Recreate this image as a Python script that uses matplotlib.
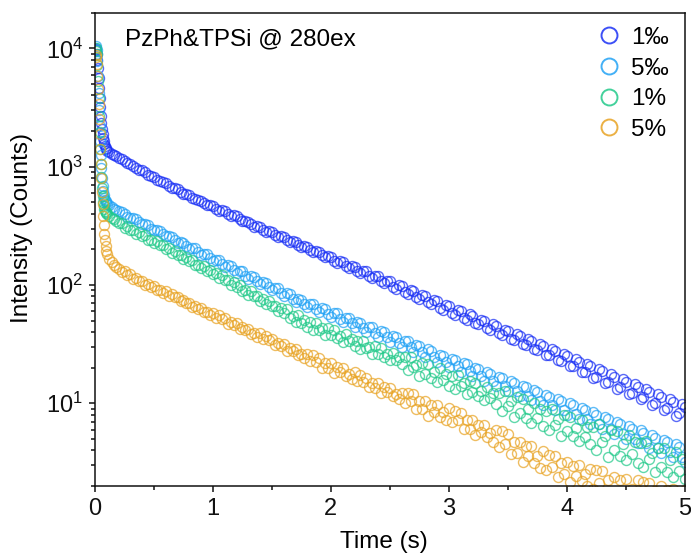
import matplotlib
matplotlib.use("Agg")
import matplotlib.pyplot as plt
from matplotlib.lines import Line2D
from matplotlib.ticker import MultipleLocator, LogLocator, NullFormatter

# =========================
# DATOS
# =========================

# tiempo (s): caída rápida inicial + cola lenta
tiempo_rapido = [0.005, 0.010, 0.015, 0.020, 0.025, 0.030, 0.035, 0.040, 0.045, 0.050,
                 0.055, 0.060, 0.065, 0.070, 0.075, 0.080, 0.085, 0.090, 0.095, 0.100,
                 0.12, 0.14, 0.16, 0.18, 0.20]
tiempo_lento = [
    0.225, 0.250, 0.275, 0.300, 0.325, 0.350, 0.375, 0.400,
    0.425, 0.450, 0.475, 0.500, 0.525, 0.550, 0.575, 0.600,
    0.625, 0.650, 0.675, 0.700, 0.725, 0.750, 0.775, 0.800,
    0.825, 0.850, 0.875, 0.900, 0.925, 0.950, 0.975, 1.000,
    1.025, 1.050, 1.075, 1.100, 1.125, 1.150, 1.175, 1.200,
    1.225, 1.250, 1.275, 1.300, 1.325, 1.350, 1.375, 1.400,
    1.425, 1.450, 1.475, 1.500, 1.525, 1.550, 1.575, 1.600,
    1.625, 1.650, 1.675, 1.700, 1.725, 1.750, 1.775, 1.800,
    1.825, 1.850, 1.875, 1.900, 1.925, 1.950, 1.975, 2.000,
    2.025, 2.050, 2.075, 2.100, 2.125, 2.150, 2.175, 2.200,
    2.225, 2.250, 2.275, 2.300, 2.325, 2.350, 2.375, 2.400,
    2.425, 2.450, 2.475, 2.500, 2.525, 2.550, 2.575, 2.600,
    2.625, 2.650, 2.675, 2.700, 2.725, 2.750, 2.775, 2.800,
    2.825, 2.850, 2.875, 2.900, 2.925, 2.950, 2.975, 3.000,
    3.025, 3.050, 3.075, 3.100, 3.125, 3.150, 3.175, 3.200,
    3.225, 3.250, 3.275, 3.300, 3.325, 3.350, 3.375, 3.400,
    3.425, 3.450, 3.475, 3.500, 3.525, 3.550, 3.575, 3.600,
    3.625, 3.650, 3.675, 3.700, 3.725, 3.750, 3.775, 3.800,
    3.825, 3.850, 3.875, 3.900, 3.925, 3.950, 3.975, 4.000,
    4.025, 4.050, 4.075, 4.100, 4.125, 4.150, 4.175, 4.200,
    4.225, 4.250, 4.275, 4.300, 4.325, 4.350, 4.375, 4.400,
    4.425, 4.450, 4.475, 4.500, 4.525, 4.550, 4.575, 4.600,
    4.625, 4.650, 4.675, 4.700, 4.725, 4.750, 4.775, 4.800,
    4.825, 4.850, 4.875, 4.900, 4.925, 4.950, 4.975, 5.000,
]

# 1‰
i_1pm_rapido = [9800, 9600, 9000, 8000, 6800, 5600, 4600, 3800, 3200, 2700,
                2350, 2100, 1900, 1750, 1640, 1560, 1490, 1440, 1400, 1370,
                1320, 1280, 1250, 1220, 1190]
i_1pm_lento = [
    1160, 1120, 1070, 1060, 1020, 968, 940, 930,
    895, 848, 840, 822, 778, 750, 745, 731,
    690, 664, 662, 645, 612, 590, 590, 578,
    548, 528, 526, 515, 490, 470, 474, 465,
    440, 425, 428, 420, 398, 384, 387, 380,
    360, 347, 350, 344, 326, 312, 318, 312,
    294, 283, 288, 282, 266, 256, 261, 256,
    240, 230, 236, 232, 218, 209, 214, 210,
    196, 189, 194, 191, 178, 171, 176, 173,
    161, 154, 160, 157, 145, 139, 145, 143,
    131, 126, 132, 130, 119, 114, 120, 119,
    107, 103, 109, 108, 97, 93, 99, 98,
    88, 84, 90, 89, 79, 76, 82, 81,
    71.5, 69, 74.5, 73.5, 64.5, 62, 68, 67,
    58, 56, 62, 60.5, 52.5, 51, 56.5, 55,
    47.5, 46.5, 51, 49.5, 43, 42, 46.5, 45,
    39, 38, 42, 41, 35, 34.5, 38.5, 37,
    31.5, 31, 35, 33.5, 28.5, 28, 31.5, 30.5,
    25.5, 25.5, 29, 27.5, 23, 22.8, 26, 25,
    20.5, 20.6, 23.5, 22.5, 18.5, 18.5, 21.5, 20.5,
    16.5, 16.8, 19.5, 18.6, 14.8, 15.1, 17.6, 16.8,
    13.3, 13.6, 16, 15.2, 12, 12.3, 14.5, 13.8,
    10.8, 11.2, 13.2, 12.5, 9.7, 10.0, 12, 11.3,
    8.7, 9.1, 10.9, 10.2, 7.8, 8.2, 9.9, 9.3,
]

# 5‰
i_5pm_rapido = [10000, 10500, 9600, 7800, 5800, 4200, 3000, 2200, 1650, 1250,
                980, 800, 690, 620, 575, 545, 525, 510, 498, 488,
                470, 455, 442, 430, 418]
i_5pm_lento = [
    412, 402, 378, 366, 368, 358, 338, 325,
    327, 320, 300, 289, 293, 286, 268, 257,
    259, 255, 238, 228, 232, 228, 212, 203,
    207, 204, 189, 180, 184, 182, 168, 160,
    164, 162, 150, 142, 147, 145, 134, 127,
    132, 130, 120, 113, 118, 117, 107, 101,
    106, 104, 96, 90, 95, 94, 85.5, 80,
    85, 84, 76.5, 71.5, 76, 75, 69, 65,
    69.5, 69, 62.5, 59, 63.5, 63, 57, 53.5,
    58, 57.5, 52, 48.5, 53, 52.5, 47.5, 44,
    48.5, 48, 43, 40, 44, 43.8, 39.5, 36.5,
    40.5, 40, 36, 33, 37, 36.5, 32.5, 30,
    33.8, 33.3, 30, 27.3, 31, 30.5, 27, 24.8,
    28.5, 27.8, 24.8, 22.5, 25.8, 25.3, 22.5, 20.4,
    23.8, 23.2, 20.5, 18.5, 21.8, 21.3, 18.6, 16.9,
    20, 19.5, 17, 15.4, 18.3, 17.8, 15.3, 14.0,
    16.8, 16.3, 14, 12.7, 15.4, 14.9, 12.8, 11.6,
    14, 13.6, 11.5, 10.6, 13, 12.5, 10.5, 9.6,
    11.8, 11.4, 9.6, 8.8, 10.9, 10.5, 8.8, 8.0,
    10, 9.6, 8.1, 7.3, 9.2, 8.8, 7.3, 6.7,
    8.4, 8.0, 6.7, 6.1, 7.7, 7.3, 6.1, 5.5,
    7.0, 6.7, 5.5, 5.0, 6.4, 6.1, 5.0, 4.6,
    5.9, 5.6, 4.6, 4.2, 5.4, 5.1, 4.2, 3.8,
    4.9, 4.7, 3.9, 3.5, 4.5, 4.3, 3.5, 3.2,
]

# 1%
i_1p_rapido = [9500, 10000, 9000, 7200, 5300, 3800, 2700, 1950, 1420, 1060,
               820, 660, 560, 500, 465, 440, 425, 413, 404, 396,
               382, 370, 358, 347, 336]
i_1p_lento = [
    333, 306, 318, 294, 290.5, 270, 279, 258,
    263.5, 242, 241, 225.5, 234, 216, 216, 200,
    204, 188, 194.5, 180.5, 178, 165.5, 171, 158.5,
    161.5, 148, 148, 138.5, 143.5, 132.5, 133, 123,
    126.3, 113.5, 121, 110, 109.3, 99.6, 105.7, 96,
    99.7, 89.3, 90, 83, 88.4, 80, 81.1, 73.5,
    76.5, 68.8, 73.3, 66.6, 66.2, 60.3, 64.1, 58.2,
    62.5, 52.5, 54.8, 48.3, 55.6, 47.6, 50.5, 43.8,
    48.7, 41.4, 48.1, 42, 43, 37.6, 43.2, 37.6,
    41.7, 35.3, 37.2, 33.1, 38.4, 33.3, 35.2, 30.6,
    33.9, 28.9, 33.6, 29.3, 30, 26.2, 30.2, 26.3,
    29.1, 24.6, 25.9, 23.2, 26.8, 23.2, 24.6, 21.3,
    24.5, 19, 24.7, 20.1, 21.2, 17.1, 22.1, 17.8,
    21.3, 16.5, 18.3, 15.2, 19.8, 15.8, 17.6, 14.1,
    17.1, 13.2, 17.3, 14.0, 14.7, 11.9, 15.3, 12.4,
    14.9, 11.5, 12.7, 10.6, 13.8, 11, 12.3, 9.9,
    12.3, 8.6, 12.8, 9.5, 10.4, 7.6, 11.3, 8.3,
    10.9, 7.5, 8.9, 6.8, 10.1, 7.5, 8.9, 6.4,
    8.6, 6.0, 8.9, 6.6, 7.3, 5.3, 7.9, 5.8,
    7.7, 5.3, 6.2, 4.8, 7.2, 5.2, 6.3, 4.5,
    6.3, 4.0, 6.7, 4.7, 5.3, 3.5, 5.9, 4.0,
    5.8, 3.6, 4.5, 3.3, 5.4, 3.7, 4.7, 3.1,
    4.6, 2.9, 4.8, 3.4, 3.8, 2.6, 4.2, 2.9,
    4.2, 2.6, 3.3, 2.4, 3.9, 2.7, 3.4, 2.3,
]

# 5%
i_5p_rapido = [8800, 8500, 7400, 5900, 4500, 3400, 2550, 1900, 1420, 1060,
               800, 610, 480, 385, 320, 272, 238, 213, 195, 182,
               165, 155, 148, 142, 137]
i_5p_lento = [
    128.8, 131, 122.1, 123.2, 111.9, 113.6, 107.1, 109,
    99.4, 102.1, 96.5, 98, 90.6, 90.3, 85.2, 88.5,
    81.2, 83.6, 78.4, 79.7, 72.6, 74, 69.8, 70.9,
    64.8, 66.9, 63, 64, 59.2, 59.2, 55.9, 58,
    52.6, 55.4, 51.2, 53, 47, 49, 45.5, 47.3,
    42.1, 44.5, 41.5, 42.8, 38.8, 39.2, 36.5, 38.9,
    34.8, 36.8, 34, 35.2, 31.1, 32.4, 30.2, 31.4,
    27.9, 29.6, 27.6, 28.5, 25.8, 26.1, 24.3, 25.9,
    22.6, 25.4, 22.5, 24.3, 19.9, 22, 19.8, 21.7,
    17.9, 20.2, 18.3, 19.9, 16.9, 17.7, 15.9, 18.2,
    15.3, 17.2, 15.2, 16.5, 13.6, 14.9, 13.5, 14.7,
    12.2, 13.8, 12.5, 13.5, 11.5, 12, 10.8, 12.3,
    10.1, 12.3, 10.4, 11.9, 8.9, 10.5, 9.0, 10.5,
    7.8, 9.6, 8.4, 9.7, 7.7, 8.4, 7.2, 9.1,
    7.0, 8.6, 7.2, 8.2, 6.1, 7.2, 6.1, 7.2,
    5.4, 6.6, 5.7, 6.5, 5.2, 5.6, 4.75, 5.9,
    4.3, 5.8, 4.55, 5.5, 3.7, 4.7, 3.8, 4.75,
    3.2, 4.35, 3.55, 4.35, 3.15, 3.55, 2.85, 3.95,
    2.75, 3.65, 2.9, 3.55, 2.4, 3.1, 2.5, 3.2,
    2.15, 2.95, 2.45, 3.0, 2.2, 2.5, 2.0, 2.8,
    1.9, 2.75, 2.1, 2.7, 1.6, 2.25, 1.75, 2.4,
    1.45, 2.25, 1.75, 2.3, 1.55, 1.9, 1.45, 2.25,
    1.45, 2.15, 1.6, 2.1, 1.3, 1.8, 1.45, 2.0,
    1.2, 1.85, 1.5, 1.9, 1.3, 1.6, 1.2, 1.85,
]

etiquetas = ["1‰", "5‰", "1%", "5%"]
colores = ["#1a30f5", "#22a2f5", "#22c98a", "#e8a323"]

# =========================
# ESTILO
# =========================

plt.rcParams["font.family"] = ["Liberation Sans", "DejaVu Sans"]
plt.rcParams["mathtext.fontset"] = "custom"
plt.rcParams["mathtext.rm"] = "Liberation Sans"
plt.rcParams["mathtext.it"] = "Liberation Sans:italic"

tiempo = tiempo_rapido + tiempo_lento
series = [
    i_1pm_rapido + i_1pm_lento,
    i_5pm_rapido + i_5pm_lento,
    i_1p_rapido + i_1p_lento,
    i_5p_rapido + i_5p_lento,
]

fig = plt.figure(figsize=(6.91, 5.56), dpi=100)
ax = fig.add_axes([0.1375, 0.126, 0.8535, 0.851])

for valores, color in zip(series, colores):
    ax.plot(tiempo, valores, linestyle="none", marker="o", markersize=7.2,
            markerfacecolor="none", markeredgecolor=color, markeredgewidth=1.0,
            alpha=0.72)

ax.set_yscale("log")
ax.set_xlim(0, 5)
ax.set_ylim(2, 2.0e4)

ax.xaxis.set_major_locator(MultipleLocator(1))
ax.xaxis.set_minor_locator(MultipleLocator(0.5))
ax.yaxis.set_major_locator(LogLocator(base=10, numticks=10))
ax.yaxis.set_minor_locator(LogLocator(base=10, subs=range(2, 10), numticks=10))
ax.yaxis.set_minor_formatter(NullFormatter())

ax.tick_params(which="both", direction="out", top=False, right=False,
               width=1.1, labelsize=17, colors="#111111")
ax.tick_params(which="major", length=4.5, pad=4)
ax.tick_params(which="minor", length=2.6)

for spine in ax.spines.values():
    spine.set_linewidth(1.1)
    spine.set_color("#111111")

ax.set_xlabel("Time (s)", fontsize=17.5)
ax.set_ylabel("Intensity (Counts)", fontsize=17.5)
ax.xaxis.set_label_coords(0.49, -0.095)
ax.yaxis.set_label_coords(-0.105, 0.546)

ax.text(0.051, 0.943, "PzPh&TPSi @ 280ex", transform=ax.transAxes,
        fontsize=17.5, va="center", ha="left")

manejadores = [
    Line2D([], [], linestyle="none", marker="o", markersize=11.5,
           markerfacecolor="none", markeredgecolor=c, markeredgewidth=1.4, alpha=0.85)
    for c in colores
]
ax.legend(manejadores, etiquetas, loc="upper left", frameon=False,
          fontsize=17.5, handlelength=1.0, handletextpad=0.4, labelspacing=0.35,
          borderpad=0, borderaxespad=0, bbox_to_anchor=(0.851, 0.97))

fig.savefig("out.png", dpi=100)
